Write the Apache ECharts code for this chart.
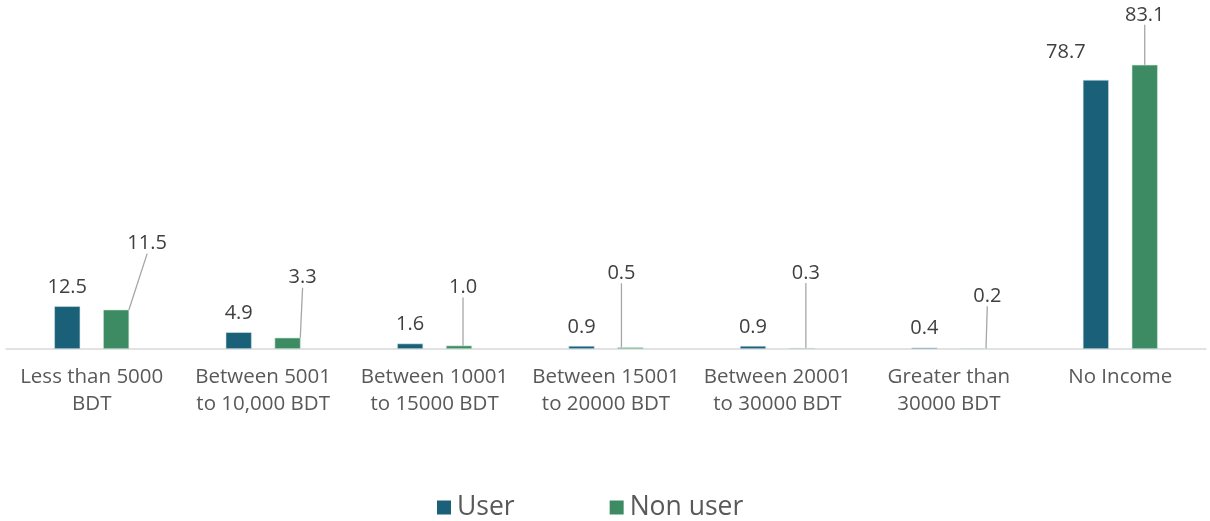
<!DOCTYPE html>
<html><head><meta charset="utf-8">
<script src="https://cdn.jsdelivr.net/npm/echarts@6/dist/echarts.min.js"></script>
<style>html,body{margin:0;padding:0;background:#fff}#c{width:1210px;height:521px}</style>
</head><body><div id="c"></div>
<script>
const categories = ['Less than 5000\nBDT','Between 5001\nto 10,000 BDT','Between 10001\nto 15000 BDT','Between 15001\nto 20000 BDT','Between 20001\nto 30000 BDT','Greater than\n30000 BDT','No Income'];
const userValues = [12.5, 4.9, 1.6, 0.9, 0.9, 0.4, 78.7];
const nonUserValues = [11.5, 3.3, 1.0, 0.5, 0.3, 0.2, 83.1];
const seriesNames = ['User', 'Non user'];

const nonUserOffsets = [[31,-47],[15,-41],[4,-39],[-9,-55],[4,-56],[14,-33],[0,-31]];
const userOffsets = [[0,0],[0,0],[0,0],[0,0],[0,0],[0,0],[-30,-9]];

const chart = echarts.init(document.getElementById('c'));
const font = '"Open Sans", sans-serif';
chart.setOption({
  animation: false,
  textStyle: {fontFamily: font},
  grid: {left: 6, right: 4, top: 7, bottom: 172, containLabel: false},
  legend: {
    top: 494, left: 432, padding: [0, 5], itemWidth: 14, itemHeight: 14, itemGap: 95,
    icon: 'rect',
    itemStyle: {borderWidth: 0},
    textStyle: {fontSize: 26.5, color: '#595959', fontFamily: font, padding: [0,0,0,1]},
    data: seriesNames
  },
  xAxis: {
    type: 'category', data: categories,
    axisLine: {lineStyle: {color: '#d9d9d9', width: 1.5}},
    axisTick: {show: false},
    axisLabel: {color: '#595959', fontSize: 20.5, lineHeight: 27, margin: 15, interval: 0}
  },
  yAxis: {type: 'value', min: 0, max: 100, show: false, splitLine: {show: false}},
  series: [
    {
      name: seriesNames[0], type: 'bar', data: userValues, barWidth: 26, barGap: '88%',
      itemStyle: {color: '#1B6079', borderColor: '#cfe0e6', borderWidth: 0.6},
      label: {show: true, position: 'top', distance: 9, color: '#404040', fontSize: 20, formatter: p => p.value.toFixed(1)},
      labelLayout: p => ({dx: userOffsets[p.dataIndex][0], dy: userOffsets[p.dataIndex][1]}),
      labelLine: {show: false}
    },
    {
      name: seriesNames[1], type: 'bar', data: nonUserValues, barWidth: 26,
      itemStyle: {color: '#3C8B62', borderColor: '#cfe6d8', borderWidth: 0.6},
      label: {show: true, position: 'top', distance: 9, color: '#404040', fontSize: 20, formatter: p => p.value.toFixed(1)},
      labelLayout: p => ({dx: nonUserOffsets[p.dataIndex][0], dy: nonUserOffsets[p.dataIndex][1]}),
      labelLine: {show: true, lineStyle: {color: '#a6a6a6', width: 1.3}}
    }
  ]
});
</script></body></html>
